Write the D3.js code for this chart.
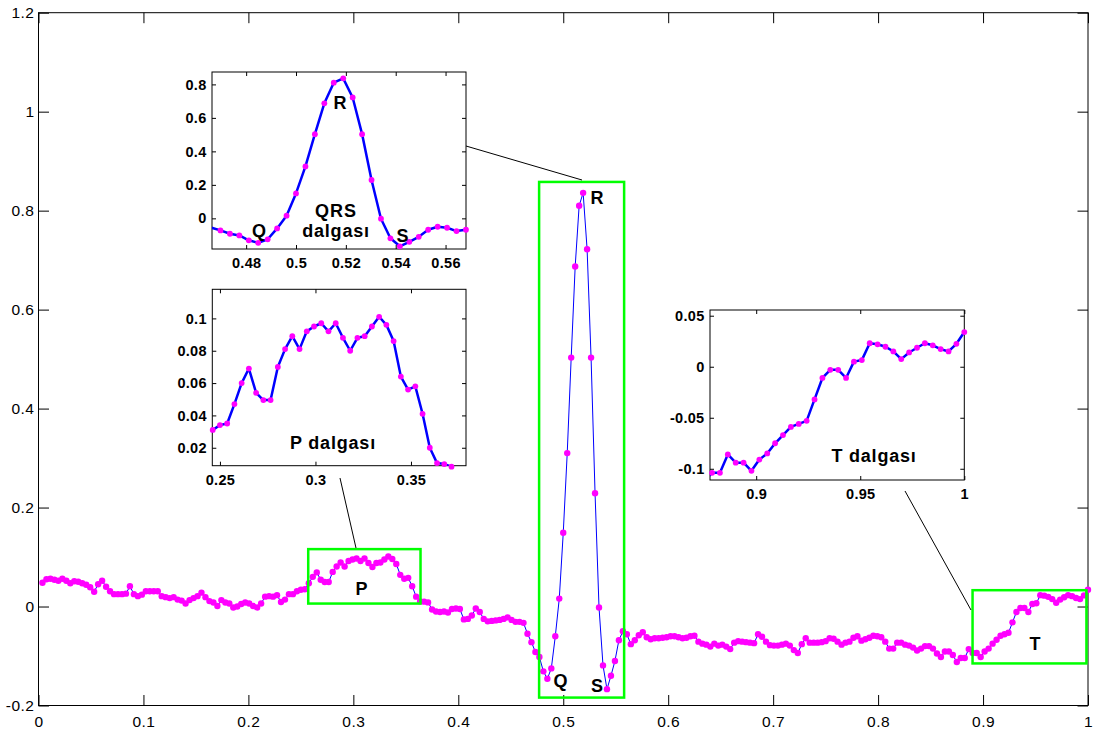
<!DOCTYPE html>
<html>
<head>
<meta charset="utf-8">
<script src="https://cdn.jsdelivr.net/npm/d3@7"></script>
<style>
  body { margin: 0; background: #fff; }
  svg { display: block; font-family: "Liberation Sans", Arial, sans-serif; }
</style>
</head>
<body>
<svg id="chart" width="1093" height="731"></svg>
<script>
// ECG beat, one sample every 1/264 of the time axis (samples 1..264)
const samplesPerUnit = 264;
const ecg = [
  0.048, 0.055, 0.056, 0.054, 0.052, 0.056, 0.052, 0.047, 0.051, 0.050,
  0.047, 0.044, 0.039, 0.030, 0.045, 0.052, 0.040, 0.031, 0.025, 0.025,
  0.025, 0.026, 0.041, 0.025, 0.021, 0.024, 0.031, 0.031, 0.031, 0.031,
  0.021, 0.019, 0.017, 0.019, 0.014, 0.012, 0.006, 0.013, 0.017, 0.021,
  0.028, 0.019, 0.011, 0.008, 0.001, 0.013, 0.008, 0.006, -0.002, 0.000,
  0.005, 0.008, 0.006, 0.001, -0.002, 0.006, 0.020, 0.021, 0.020, 0.023,
  0.009, 0.014, 0.025, 0.025, 0.031, 0.034, 0.035, 0.047, 0.060, 0.069,
  0.054, 0.0495, 0.0495, 0.070, 0.081, 0.089, 0.081, 0.092, 0.095, 0.097,
  0.092, 0.097, 0.088, 0.080, 0.088, 0.089, 0.095, 0.101, 0.096, 0.086,
  0.064, 0.056, 0.058, 0.041, 0.020, 0.0105, 0.0099, 0.0083, -0.006, -0.010,
  -0.011, -0.010, -0.012, -0.005, -0.004, -0.005, -0.026, -0.025, -0.018, -0.004,
  -0.011, -0.025, -0.030, -0.029, -0.028, -0.027, -0.025, -0.022, -0.027, -0.031,
  -0.031, -0.033, -0.055, -0.072, -0.092, -0.102, -0.131, -0.146, -0.125, -0.060,
  0.016, 0.149, 0.310, 0.503, 0.687, 0.810, 0.836, 0.722, 0.503, 0.229,
  -0.002, -0.119, -0.167, -0.140, -0.110, -0.068, -0.050, -0.056, -0.076, -0.068,
  -0.058, -0.052, -0.062, -0.066, -0.064, -0.064, -0.063, -0.062, -0.060, -0.060,
  -0.062, -0.064, -0.063, -0.060, -0.059, -0.071, -0.075, -0.077, -0.081, -0.075,
  -0.079, -0.077, -0.081, -0.086, -0.073, -0.070, -0.071, -0.072, -0.073, -0.074,
  -0.056, -0.061, -0.071, -0.078, -0.079, -0.079, -0.077, -0.075, -0.079, -0.088,
  -0.094, -0.076, -0.064, -0.073, -0.073, -0.073, -0.072, -0.070, -0.064, -0.065,
  -0.071, -0.077, -0.073, -0.071, -0.063, -0.060, -0.069, -0.066, -0.063, -0.059,
  -0.060, -0.062, -0.071, -0.085, -0.085, -0.073, -0.073, -0.077, -0.079, -0.083,
  -0.089, -0.085, -0.080, -0.080, -0.085, -0.095, -0.102, -0.091, -0.091, -0.098,
  -0.112, -0.104, -0.104, -0.086, -0.094, -0.094, -0.102, -0.091, -0.085, -0.075,
  -0.067, -0.059, -0.056, -0.053, -0.032, -0.011, -0.003, -0.003, -0.011, 0.005,
  0.0065, 0.023, 0.022, 0.0196, 0.015, 0.0075, 0.014, 0.0186, 0.023, 0.021,
  0.0173, 0.015, 0.0225, 0.034
];

// main axes
const mainXDomain = [0, 1];
const mainYDomain = [-0.2, 1.2];
const mainXTicks = [0, 0.1, 0.2, 0.3, 0.4, 0.5, 0.6, 0.7, 0.8, 0.9, 1];
const mainYTicks = [-0.2, 0, 0.2, 0.4, 0.6, 0.8, 1, 1.2];

// zoomed insets: sample range (1-based), limits and ticks
const qrsSamples = [123, 150];
const qrsXDomain = [0.4663, 0.5682];
const qrsYDomain = [-0.183, 0.874];
const qrsXTicks = [0.48, 0.5, 0.52, 0.54, 0.56];
const qrsYTicks = [0, 0.2, 0.4, 0.6, 0.8];

const pSamples = [64, 98];
const pXDomain = [0.2460, 0.3788];
const pYDomain = [0.0089, 0.118];
const pXTicks = [0.25, 0.3, 0.35];
const pYTicks = [0.02, 0.04, 0.06, 0.08, 0.1];

const tSamples = [231, 264];
const tXDomain = [0.8778, 1.0];
const tYDomain = [-0.111, 0.0556];
const tXTicks = [0.9, 0.95, 1];
const tYTicks = [-0.1, -0.05, 0, 0.05];

const points = ecg.map((v, i) => ({ t: (i + 1) / samplesPerUnit, v }));

const svg = d3.select("#chart");
const FONT = '"Liberation Sans", Arial, sans-serif';
const BLUE = "#0000ff", MAGENTA = "#ff00ff", GREEN = "#00ff00";

function drawFrame(g, x, y, xTicks, yTicks, o) {
  const [x0, x1] = x.range();
  const [y0, y1] = y.range(); // y0 = bottom
  const fmt = (d) => String(d);

  g.append("rect")
    .attr("x", x0).attr("y", y1)
    .attr("width", x1 - x0).attr("height", y0 - y1)
    .attr("fill", "#fff");

  const style = (sel) => {
    sel.select(".domain").remove();
    sel.selectAll("line").attr("stroke", "#000");
    sel.selectAll("text")
      .attr("fill", "#000")
      .style("font-family", FONT)
      .style("font-size", o.fontSize + "px")
      .style("font-weight", o.bold ? "bold" : "normal")
      .style("letter-spacing", o.spacing + "px");
  };

  g.append("g").attr("transform", `translate(0,${y0})`)
    .call(d3.axisBottom(x).tickValues(xTicks).tickSize(-o.tick)
      .tickPadding(o.xPad).tickFormat(fmt))
    .call(style);
  g.append("g").attr("transform", `translate(0,${y1})`)
    .call(d3.axisTop(x).tickValues(xTicks).tickSize(-o.tick).tickFormat(""))
    .call(style);
  g.append("g").attr("transform", `translate(${x0},0)`)
    .call(d3.axisLeft(y).tickValues(yTicks).tickSize(-o.tick)
      .tickPadding(o.yPad).tickFormat(fmt))
    .call(style);
  g.append("g").attr("transform", `translate(${x1},0)`)
    .call(d3.axisRight(y).tickValues(yTicks).tickSize(-o.tick).tickFormat(""))
    .call(style);

  g.append("rect")
    .attr("x", x0).attr("y", y1)
    .attr("width", x1 - x0).attr("height", y0 - y1)
    .attr("fill", "none").attr("stroke", "#000").attr("stroke-width", 1);
}

function label(g, text, px, py, size, spacing) {
  g.append("text")
    .attr("x", px).attr("y", py)
    .attr("text-anchor", "middle")
    .style("font-family", FONT)
    .style("font-size", size + "px")
    .style("font-weight", "bold")
    .style("letter-spacing", (spacing || 0) + "px")
    .text(text);
}

// ---------- main plot ----------
const x = d3.scaleLinear().domain(mainXDomain).range([38.5, 1088]);
const y = d3.scaleLinear().domain(mainYDomain).range([705.5, 12.7]);

const mainG = svg.append("g");
drawFrame(mainG, x, y, mainXTicks, mainYTicks,
  { tick: 10.5, xPad: 10.3, yPad: 4, fontSize: 15.5, bold: false, spacing: 0.5 });

const line = d3.line().x((d) => x(d.t)).y((d) => y(d.v));
mainG.append("path")
  .attr("d", line(points))
  .attr("fill", "none").attr("stroke", BLUE).attr("stroke-width", 1);
mainG.append("g").selectAll("circle").data(points).join("circle")
  .attr("cx", (d) => x(d.t)).attr("cy", (d) => y(d.v))
  .attr("r", 3.2).attr("fill", MAGENTA);

// green boxes marking the zoomed waves
const boxes = [
  { t0: 0.257, t1: 0.364, v0: 0.006, v1: 0.116 },   // P
  { t0: 0.477, t1: 0.558, v0: -0.184, v1: 0.858 },  // QRS
  { t0: 0.890, t1: 0.9985, v0: -0.115, v1: 0.033 }  // T
];
mainG.append("g").selectAll("rect").data(boxes).join("rect")
  .attr("x", (d) => x(d.t0)).attr("y", (d) => y(d.v1))
  .attr("width", (d) => x(d.t1) - x(d.t0))
  .attr("height", (d) => y(d.v0) - y(d.v1))
  .attr("fill", "none").attr("stroke", GREEN).attr("stroke-width", 2.5);

label(mainG, "P", 361.5, 595, 18);
label(mainG, "Q", 560.5, 687, 18);
label(mainG, "S", 597, 692, 18);
label(mainG, "R", 597, 204, 18);
label(mainG, "T", 1035, 650, 18);

// connector lines from insets to boxes
const connectors = [
  [466, 146, 582, 180],
  [340, 478, 356, 548],
  [905, 491, 971, 610]
];
mainG.append("g").selectAll("line").data(connectors).join("line")
  .attr("x1", (d) => d[0]).attr("y1", (d) => d[1])
  .attr("x2", (d) => d[2]).attr("y2", (d) => d[3])
  .attr("stroke", "#000").attr("stroke-width", 1);

// ---------- insets ----------
function inset(id, box, samples, xDom, yDom, xTicks, yTicks) {
  const ix = d3.scaleLinear().domain(xDom).range([box.x0, box.x1]);
  const iy = d3.scaleLinear().domain(yDom).range([box.y1, box.y0]);
  const g = svg.append("g");
  drawFrame(g, ix, iy, xTicks, yTicks,
    { tick: 4, xPad: 8.7, yPad: 5.5, fontSize: 14.5, bold: true, spacing: 0.3 });

  g.append("clipPath").attr("id", id)
    .append("rect")
    .attr("x", box.x0).attr("y", box.y0)
    .attr("width", box.x1 - box.x0).attr("height", box.y1 - box.y0);

  const sub = points.slice(samples[0] - 1, samples[1]);
  const l = d3.line().x((d) => ix(d.t)).y((d) => iy(d.v));
  g.append("path")
    .attr("d", l(sub))
    .attr("clip-path", `url(#${id})`)
    .attr("fill", "none").attr("stroke", BLUE).attr("stroke-width", 2.5)
    .attr("stroke-linejoin", "round");
  g.append("g").selectAll("circle")
    .data(sub.filter((d) => d.t >= xDom[0] && d.t <= xDom[1] + 1e-9))
    .join("circle")
    .attr("cx", (d) => ix(d.t)).attr("cy", (d) => iy(d.v))
    .attr("r", 2.9).attr("fill", MAGENTA);
  return g;
}

const qrsG = inset("clipQRS", { x0: 212, x1: 466, y0: 72, y1: 249 },
  qrsSamples, qrsXDomain, qrsYDomain, qrsXTicks, qrsYTicks);
label(qrsG, "Q", 259, 236.5, 18);
label(qrsG, "R", 340, 109, 18);
label(qrsG, "S", 402.5, 241.5, 18);
label(qrsG, "QRS", 336, 217, 18, 1);
label(qrsG, "dalgası", 336, 237, 18, 0.8);

const pG = inset("clipP", { x0: 212.3, x1: 466, y0: 289.3, y1: 465.7 },
  pSamples, pXDomain, pYDomain, pXTicks, pYTicks);
label(pG, "P dalgası", 333, 449, 18, 0.8);

const tG = inset("clipT", { x0: 710, x1: 964.3, y0: 310, y1: 480 },
  tSamples, tXDomain, tYDomain, tXTicks, tYTicks);
label(tG, "T dalgası", 874, 461.5, 18, 0.8);
</script>
</body>
</html>
